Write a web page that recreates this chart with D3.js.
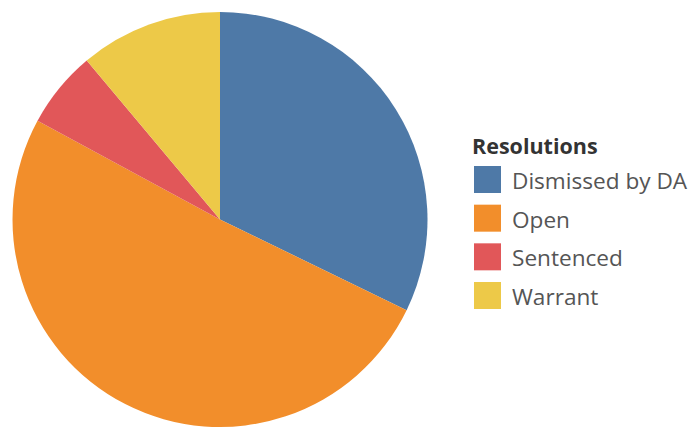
<!DOCTYPE html>
<html>
<head>
<meta charset="utf-8">
<script src="https://cdn.jsdelivr.net/npm/d3@7"></script>
<style>
  body { margin: 0; background: #fff; }
  svg { display: block; }
</style>
</head>
<body>
<script>
var categories = ["Dismissed by DA", "Open", "Sentenced", "Warrant"];
var values = [32.2, 50.7, 6.0, 11.1];
var colors = ["#4e79a7", "#f28e2b", "#e15759", "#edc948"];
var legendTitle = "Resolutions";

var width = 691, height = 428;
var cx = 220, cy = 219.5, radius = 207.5;

var svg = d3.select("body").append("svg")
    .attr("width", width)
    .attr("height", height);

var data = categories.map(function(c, i){ return {name: c, value: values[i]}; });

var color = d3.scaleOrdinal()
    .domain(categories)
    .range(colors);

var pie = d3.pie()
    .sort(null)
    .value(function(d){ return d.value; });

var arc = d3.arc()
    .innerRadius(0)
    .outerRadius(radius);

var g = svg.append("g")
    .attr("transform", "translate(" + cx + "," + cy + ")");

g.selectAll("path")
    .data(pie(data))
    .enter()
    .append("path")
    .attr("d", arc)
    .attr("fill", function(d){ return color(d.data.name); });

// legend
var legend = svg.append("g")
    .attr("transform", "translate(472,0)");

legend.append("text")
    .attr("x", 0)
    .attr("y", 154)
    .attr("font-family", "'Open Sans', sans-serif")
    .attr("font-weight", "bold")
    .attr("font-size", 21.5)
    .attr("fill", "#333")
    .text(legendTitle);

var rowY = d3.scalePoint()
    .domain(categories)
    .range([166, 282]);

var rows = legend.selectAll(".row")
    .data(categories)
    .enter()
    .append("g")
    .attr("class", "row")
    .attr("transform", function(d){ return "translate(0," + rowY(d) + ")"; });

rows.append("rect")
    .attr("x", 2)
    .attr("y", 0)
    .attr("width", 27)
    .attr("height", 27)
    .attr("fill", function(d){ return color(d); });

rows.append("text")
    .attr("x", 40)
    .attr("y", 23)
    .attr("font-family", "'Open Sans', sans-serif")
    .attr("font-size", 22.6)
    .attr("fill", "#555")
    .text(function(d){ return d; });
</script>
</body>
</html>
